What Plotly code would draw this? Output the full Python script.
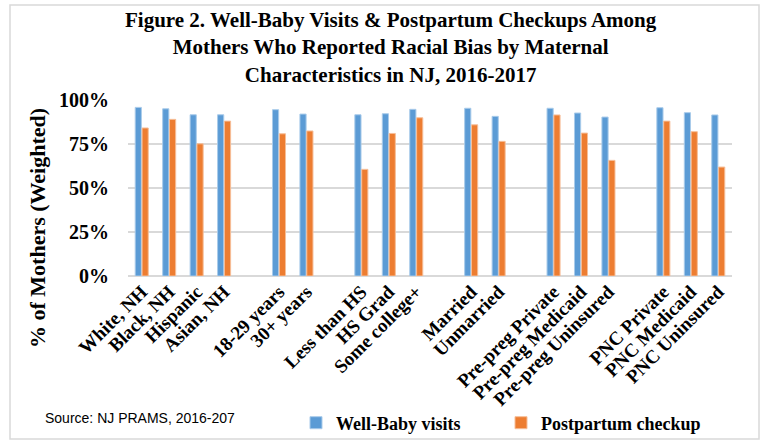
import plotly.graph_objects as go

# ---------------- data ----------------
categories = [
    "White, NH", "Black, NH", "Hispanic", "Asian, NH",
    "18-29 years", "30+ years",
    "Less than HS", "HS Grad", "Some college+",
    "Married", "Unmarried",
    "Pre-preg Private", "Pre-preg Medicaid", "Pre-preg Uninsured",
    "PNC Private", "PNC Medicaid", "PNC Uninsured",
]
group_sizes = [4, 2, 3, 2, 3, 3]
well_baby = [95.8, 95.0, 91.6, 91.6, 94.5, 92.0, 91.6, 92.2, 94.7,
             95.3, 90.7, 95.3, 92.6, 90.3, 95.6, 92.8, 91.5]
postpartum = [84.1, 89.0, 75.1, 88.0, 80.8, 82.4, 60.6, 81.0, 89.9,
              85.9, 76.5, 91.5, 81.2, 65.7, 88.0, 82.0, 61.9]
series_names = ["Well-Baby visits", "Postpartum checkup"]
y_ticks = [0, 25, 50, 75, 100]
y_tick_labels = [f"{v}%" for v in y_ticks]

# category order with empty spacer slots between groups
cat_order = []
i = 0
for g, n in enumerate(group_sizes):
    if g > 0:
        cat_order.append(" " * g)
    cat_order.extend(categories[i:i + n])
    i += n

W, H = 763, 441
L, R, T, B = 128, 31, 100, 165
pw, ph = W - L - R, H - T - B


def px_x(x):
    return (x - L) / pw


def px_y(y):
    return (H - B - y) / ph


SERIF = "Liberation Serif"
blue, orange = "#5B9BD5", "#ED7D31"

fig = go.Figure()
fig.add_trace(go.Bar(x=categories, y=well_baby, name=series_names[0],
                     marker=dict(color=blue, line=dict(color="#A9CBEA", width=1))))
fig.add_trace(go.Bar(x=categories, y=postpartum, name=series_names[1],
                     marker=dict(color=orange, line=dict(color="#F6BE98", width=1))))

fig.update_layout(
    width=W, height=H,
    margin=dict(l=L, r=R, t=T, b=B, autoexpand=False),
    paper_bgcolor="white", plot_bgcolor="white",
    barmode="group", bargap=0.5, bargroupgap=0.1,
    xaxis=dict(
        type="category", categoryorder="array", categoryarray=cat_order,
        tickangle=-45, automargin=False, showgrid=False, showline=False,
        ticks="",
        tickfont=dict(family=SERIF, size=19, color="black", weight="bold"),
    ),
    yaxis=dict(
        range=[0, 100], tickmode="array", tickvals=y_ticks, ticktext=y_tick_labels,
        showgrid=True, gridcolor="#D9D9D9", gridwidth=2,
        zeroline=True, zerolinecolor="#D9D9D9", zerolinewidth=2,
        ticks="outside", ticklen=14, tickcolor="rgba(0,0,0,0)",
        automargin=False,
        tickfont=dict(family=SERIF, size=20, color="black", weight="bold"),
    ),
    legend=dict(
        orientation="h", x=px_x(296), xanchor="left",
        y=px_y(423), yanchor="middle",
        entrywidth=160, entrywidthmode="pixels",
        font=dict(family=SERIF, size=18, color="black", weight="bold"),
        bgcolor="rgba(0,0,0,0)",
    ),
    showlegend=True,
)

fig.add_annotation(
    text="Figure 2. Well-Baby Visits & Postpartum Checkups Among<br>"
         "Mothers Who Reported Racial Bias by Maternal<br>"
         "Characteristics in NJ, 2016-2017",
    xref="paper", yref="paper", x=px_x(391), y=px_y(6),
    xanchor="center", yanchor="top", showarrow=False, align="center",
    font=dict(family=SERIF, size=21, color="black", weight="bold"),
)
fig.add_annotation(
    text="% of Mothers (Weighted)", textangle=-90,
    xref="paper", yref="paper", x=px_x(37), y=px_y(228),
    xanchor="center", yanchor="middle", showarrow=False,
    font=dict(family=SERIF, size=22, color="black", weight="bold"),
)
fig.add_annotation(
    text="Source: NJ PRAMS, 2016-207",
    xref="paper", yref="paper", x=px_x(43), y=px_y(418),
    xanchor="left", yanchor="middle", showarrow=False,
    font=dict(family="Liberation Sans", size=14, color="black"),
)
fig.add_shape(
    type="rect", xref="paper", yref="paper",
    x0=px_x(10), x1=px_x(759), y0=px_y(439), y1=px_y(5),
    line=dict(color="#D9D9D9", width=1.5), fillcolor="rgba(0,0,0,0)",
    layer="below",
)

fig.write_html(
    "out.html",
    config={"displayModeBar": False},
    post_script="document.body.style.margin='0';document.body.style.overflow='hidden';",
)
